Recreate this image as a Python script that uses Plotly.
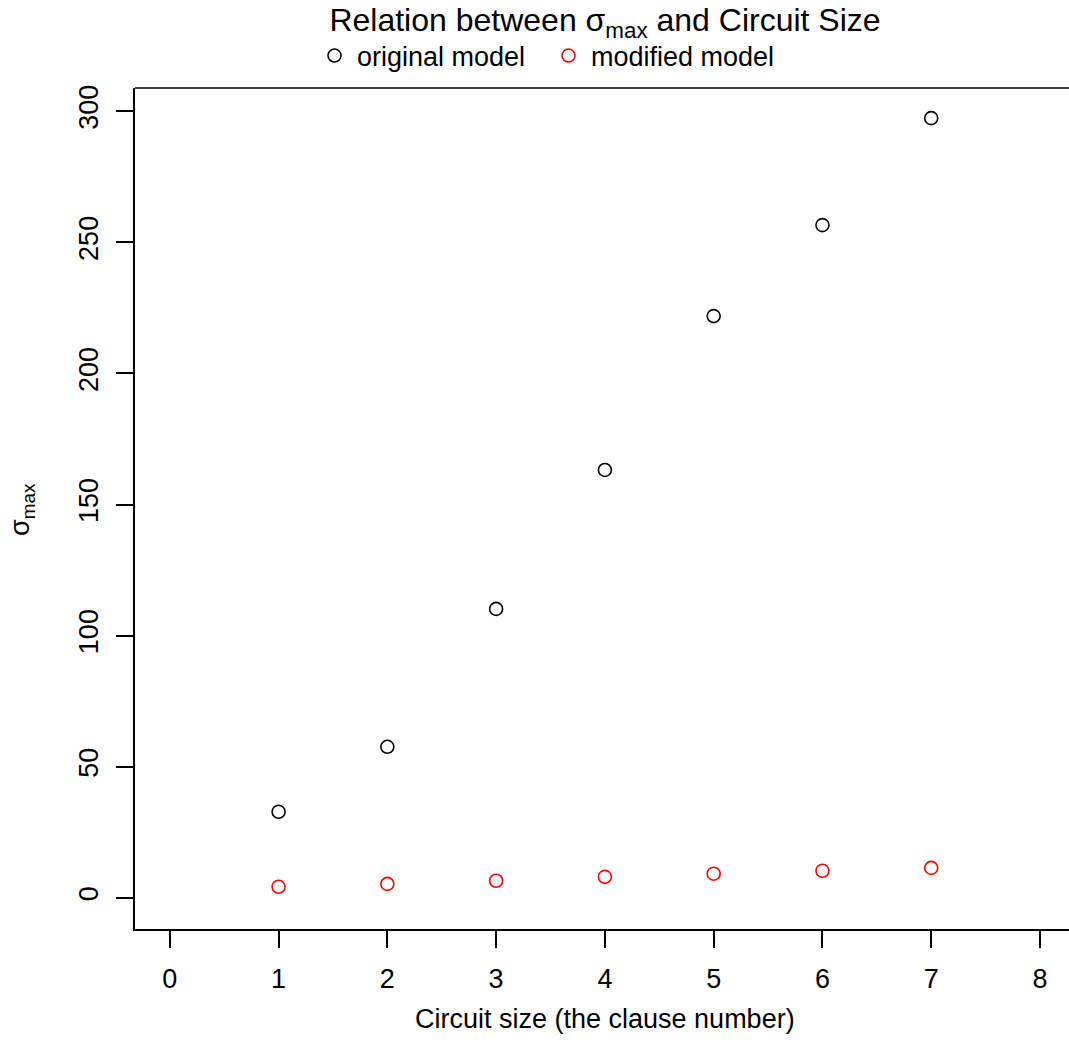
import plotly.graph_objects as go

circuit_size = [1, 2, 3, 4, 5, 6, 7]
original_model = [32.8, 57.6, 110.2, 163.2, 221.9, 256.6, 297.4]
modified_model = [4.2, 5.3, 6.5, 8.0, 9.2, 10.3, 11.4]
x_ticks = [0, 1, 2, 3, 4, 5, 6, 7, 8]
y_ticks = [0, 50, 100, 150, 200, 250, 300]

FONT = "Liberation Sans, Arial, sans-serif"

fig = go.Figure()
fig.add_trace(go.Scatter(x=circuit_size, y=original_model, mode="markers", name="original model",
                         marker=dict(symbol="circle-open", size=13, color="black", line=dict(width=1.6))))
fig.add_trace(go.Scatter(x=circuit_size, y=modified_model, mode="markers", name="modified model",
                         marker=dict(symbol="circle-open", size=13, color="red", line=dict(width=1.6))))

fig.update_layout(
    width=1069, height=1062,
    margin=dict(l=135, r=0, t=88, b=133),
    plot_bgcolor="white", paper_bgcolor="white",
    font=dict(family=FONT, size=27, color="black"),
    title=dict(text="Relation between σ<sub>max</sub> and Circuit Size", x=605/1069, xref="container",
               xanchor="center", y=1 - 20/1062, yref="container", yanchor="middle",
               font=dict(size=32)),
    showlegend=True,
    legend=dict(orientation="h", x=(546 - 135) / 934, xanchor="center", y=1 + 32 / 841, yanchor="middle",
                font=dict(size=27), bgcolor="rgba(0,0,0,0)", itemwidth=35, entrywidth=184),
    xaxis=dict(range=[-0.32, (1069 - 170) / 108.75], tickvals=x_ticks, ticks="outside", ticklen=17,
               tickwidth=1.5, tickcolor="black", showgrid=False, zeroline=False, showline=True,
               linecolor="black", linewidth=1.5, ticklabelstandoff=8),
    yaxis=dict(range=[-11.9, 308.9], tickvals=y_ticks, ticks="outside", ticklen=17, tickwidth=1.5,
               tickcolor="black", showgrid=False, zeroline=False, showline=True, linecolor="black",
               linewidth=1.5, tickangle=-90, ticklabelstandoff=7),
)
fig.add_shape(type="line", xref="paper", yref="paper", x0=0, x1=1, y0=1, y1=1,
              line=dict(color="black", width=1.5))
fig.add_annotation(text="Circuit size (the clause number)", xref="paper", yref="paper",
                   x=(605 - 135) / 934, y=-(1019 - 929) / 841, xanchor="center", yanchor="middle",
                   showarrow=False, font=dict(size=27))
fig.add_annotation(text="σ<sub>max</sub>", xref="paper", yref="paper",
                   x=-(135 - 22) / 934, y=(929 - 510) / 841, xanchor="center", yanchor="middle",
                   textangle=-90, showarrow=False, font=dict(size=27))

fig.write_html("out.html")
